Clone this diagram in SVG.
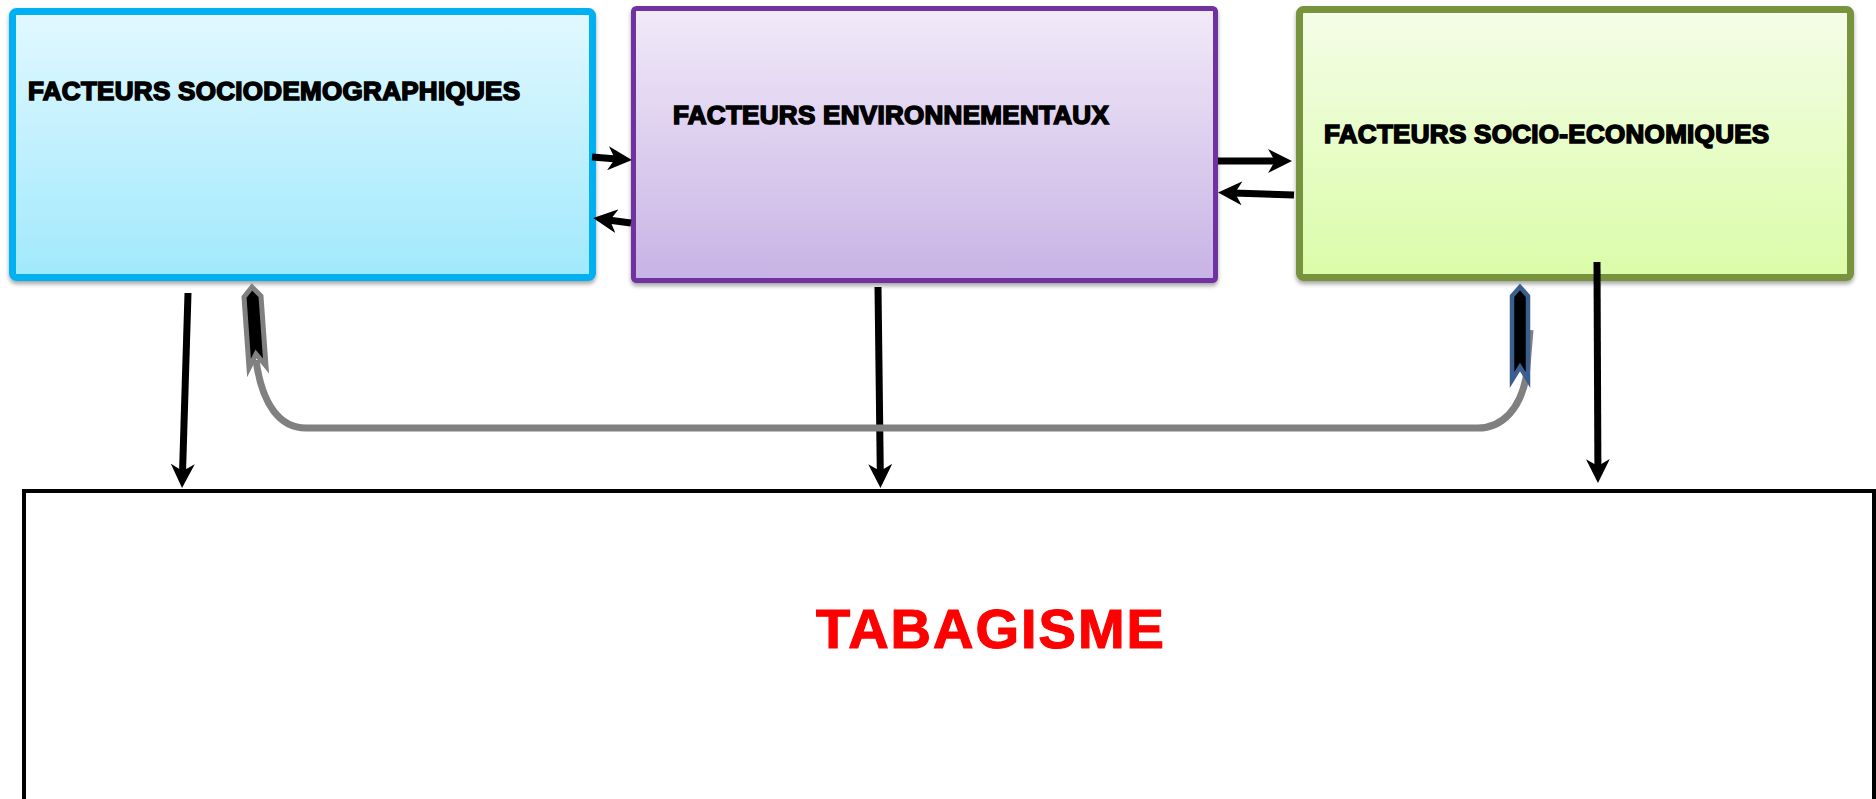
<svg xmlns="http://www.w3.org/2000/svg" width="1876" height="799" viewBox="0 0 1876 799">
<defs>
<linearGradient id="gBlue" x1="0" y1="0" x2="0" y2="1"><stop offset="0" stop-color="#E2F8FE"/><stop offset="1" stop-color="#A0E9FD"/></linearGradient>
<linearGradient id="gPurple" x1="0" y1="0" x2="0" y2="1"><stop offset="0" stop-color="#F1EAF8"/><stop offset="1" stop-color="#C8B3E5"/></linearGradient>
<linearGradient id="gGreen" x1="0" y1="0" x2="0" y2="1"><stop offset="0" stop-color="#F4FDE8"/><stop offset="1" stop-color="#DBFCA8"/></linearGradient>
<filter id="shadow" x="-5%" y="-5%" width="110%" height="115%"><feDropShadow dx="0" dy="3" stdDeviation="2" flood-color="#000" flood-opacity="0.35"/></filter>
<marker id="ah" viewBox="0 0 24 24" refX="9" refY="12" markerWidth="24" markerHeight="24" markerUnits="userSpaceOnUse" orient="auto"><path d="M0,0 L24,12 L0,24 L7,12 Z" fill="#000"/></marker>
<style>
.lbl{font-family:"Liberation Sans",Arial,sans-serif;font-weight:bold;font-size:26px;fill:#000;stroke:#000;stroke-width:1.6;letter-spacing:0.3px}
.conn{stroke:#000;stroke-width:7;fill:none;marker-end:url(#ah)}
</style>
</defs>
<rect width="1876" height="799" fill="#fff"/>
<g id="tabagisme">
<rect x="24" y="491" width="1850" height="330" fill="#fff" stroke="#000" stroke-width="4"/>
<text x="991" y="648" text-anchor="middle" style="font-family:'Liberation Sans',Arial,sans-serif;font-weight:bold;font-size:56px;fill:#FF0000;stroke:#FF0000;stroke-width:1.2;letter-spacing:2px">TABAGISME</text>
</g>
<g id="sociodemo">
<rect x="12.5" y="11.5" width="580" height="266" rx="4" fill="url(#gBlue)" stroke="#00B0F0" stroke-width="7" filter="url(#shadow)"/>
<text class="lbl" x="28" y="100">FACTEURS SOCIODEMOGRAPHIQUES</text>
</g>
<g id="environ">
<rect x="633.5" y="8.5" width="582" height="272" rx="3" fill="url(#gPurple)" stroke="#7030A0" stroke-width="5" filter="url(#shadow)"/>
<text class="lbl" x="673" y="124">FACTEURS ENVIRONNEMENTAUX</text>
</g>
<g id="socioeco">
<rect x="1299.5" y="9.5" width="551" height="268" rx="4" fill="url(#gGreen)" stroke="#77933C" stroke-width="7" filter="url(#shadow)"/>
<text class="lbl" x="1324" y="143">FACTEURS SOCIO-ECONOMIQUES</text>
</g>
<g id="connectors">
<line class="conn" x1="592" y1="157" x2="617" y2="158.9"/>
<line class="conn" x1="631" y1="223" x2="608" y2="220"/>
<line class="conn" x1="1218" y1="161" x2="1277" y2="161"/>
<line class="conn" x1="1294" y1="195" x2="1233" y2="193"/>
<line class="conn" x1="188" y1="293" x2="182.5" y2="473"/>
<line class="conn" x1="878" y1="287" x2="880.3" y2="473"/>
<line class="conn" x1="1597" y1="262" x2="1597.9" y2="468"/>
<path d="M256,360 C262,405 280,428 306,428 L1478,428 C1503,428 1520,408 1526,378 L1530,330" fill="none" stroke="#808080" stroke-width="7"/>
<polygon points="252,287 261,296 266,366 256,354 249,368 244,297" fill="#000" stroke="#808080" stroke-width="5" stroke-linejoin="miter"/>
<polygon points="1520,287 1528,296 1528,380 1520,367 1512,380 1512,296" fill="#000" stroke="#3A5F8E" stroke-width="4.5" stroke-linejoin="miter"/>
</g>
</svg>
